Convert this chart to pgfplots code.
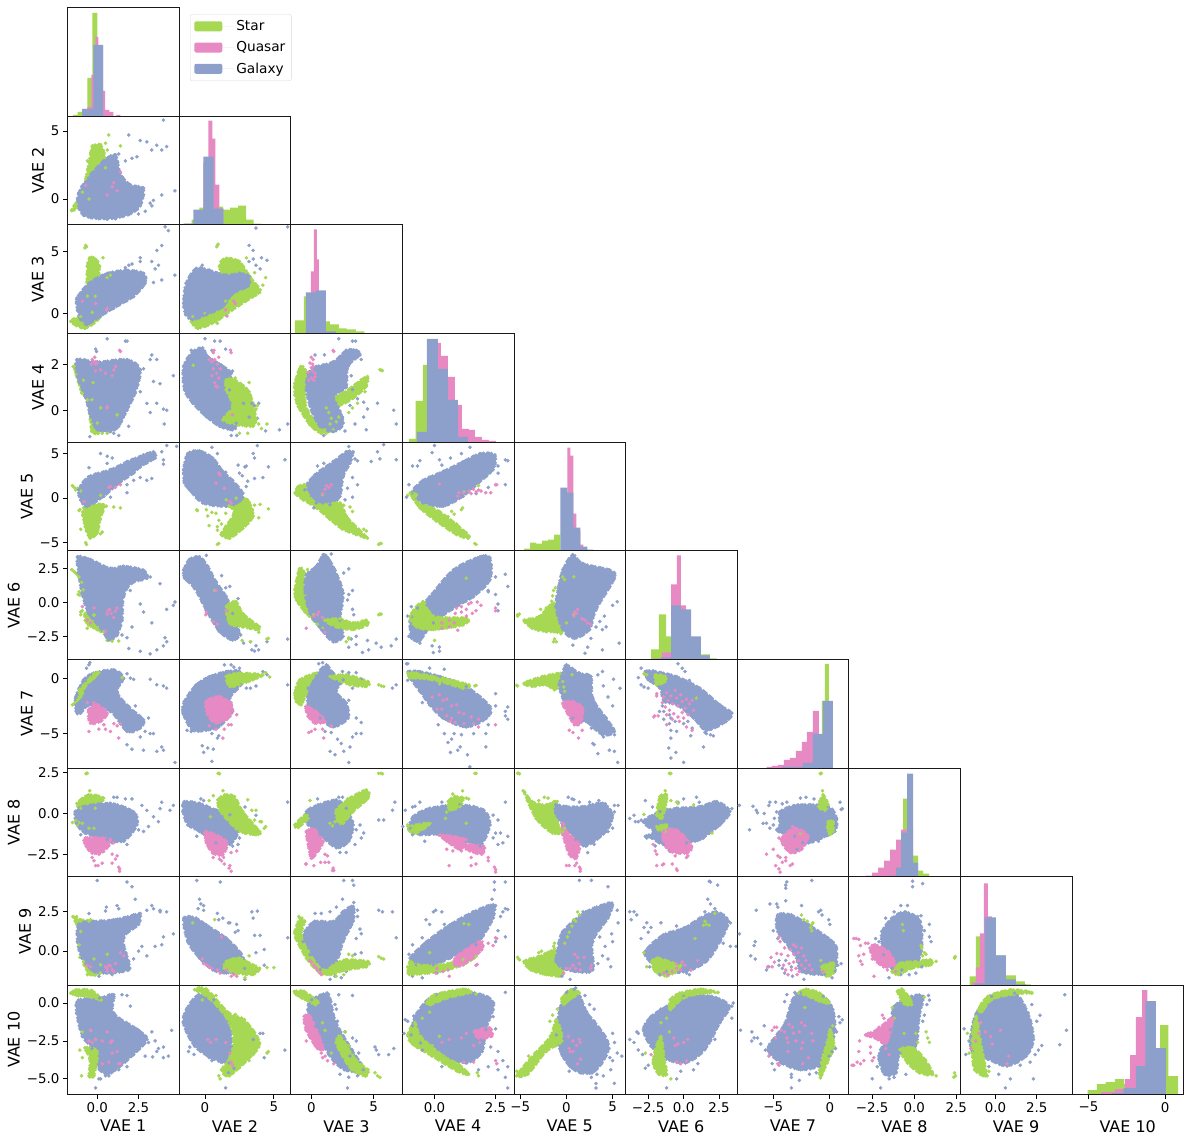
\documentclass[border=0pt]{standalone}
\usepackage{fontspec}
\setmainfont{DejaVu Sans}
\usepackage{pgfplots}
\pgfplotsset{compat=1.18}
\definecolor{cg}{HTML}{A6D854}
\definecolor{cp}{HTML}{E78AC3}
\definecolor{cb}{HTML}{8DA0CB}
% value ranges of the ten latent variables
\pgfplotsset{
  rx1/.style={xmin=-1.8,xmax=4.95},
  rx2/.style={xmin=-1.88,xmax=6.22},ry2/.style={ymin=-1.88,ymax=6.1},
  rx3/.style={xmin=-1.65,xmax=7.29},ry3/.style={ymin=-1.6,ymax=7.18},
  rx4/.style={xmin=-1.32,xmax=3.25},ry4/.style={ymin=-1.38,ymax=3.34},
  rx5/.style={xmin=-5.7,xmax=6.4},ry5/.style={ymin=-5.9,ymax=6.3},
  rx6/.style={xmin=-4.1,xmax=3.77},ry6/.style={ymin=-4.2,ymax=3.85},
  rx7/.style={xmin=-8.2,xmax=1.67},ry7/.style={ymin=-8.1,ymax=1.7},
  rx8/.style={xmin=-3.9,xmax=2.74},ry8/.style={ymin=-3.88,ymax=2.8},
  rx9/.style={xmin=-2.13,xmax=4.63},ry9/.style={ymin=-2.18,ymax=4.74},
  rx10/.style={xmin=-6.08,xmax=1.2},ry10/.style={ymin=-6.0,ymax=1.17},
  xlab-10-1/.style={xlabel={VAE 1},xtick={0,2.5},xticklabels={0.0,2.5}},
  xlab-10-2/.style={xlabel={VAE 2},xtick={0,5},xticklabels={0,5}},
  xlab-10-3/.style={xlabel={VAE 3},xtick={0,5},xticklabels={0,5}},
  xlab-10-4/.style={xlabel={VAE 4},xtick={0,2.5},xticklabels={0.0,2.5}},
  xlab-10-5/.style={xlabel={VAE 5},xtick={-5,0,5},xticklabels={−5,0,5}},
  xlab-10-6/.style={xlabel={VAE 6},xtick={-2.5,0,2.5},xticklabels={−2.5,0.0,2.5}},
  xlab-10-7/.style={xlabel={VAE 7},xtick={-5,0},xticklabels={−5,0}},
  xlab-10-8/.style={xlabel={VAE 8},xtick={-2.5,0,2.5},xticklabels={−2.5,0.0,2.5}},
  xlab-10-9/.style={xlabel={VAE 9},xtick={0,2.5},xticklabels={0.0,2.5}},
  xlab-10-10/.style={xlabel={VAE 10},xtick={-5,0},xticklabels={−5,0}},
  ylab-1-2/.style={ylabel={VAE 2},ytick={0,5},yticklabels={0,5}},
  ylab-1-3/.style={ylabel={VAE 3},ytick={0,5},yticklabels={0,5}},
  ylab-1-4/.style={ylabel={VAE 4},ytick={0,2},yticklabels={0,2}},
  ylab-1-5/.style={ylabel={VAE 5},ytick={-5,0,5},yticklabels={−5,0,5}},
  ylab-1-6/.style={ylabel={VAE 6},ytick={-2.5,0,2.5},yticklabels={−2.5,0.0,2.5}},
  ylab-1-7/.style={ylabel={VAE 7},ytick={-5,0},yticklabels={−5,0}},
  ylab-1-8/.style={ylabel={VAE 8},ytick={-2.5,0,2.5},yticklabels={−2.5,0.0,2.5}},
  ylab-1-9/.style={ylabel={VAE 9},ytick={0,2.5},yticklabels={0.0,2.5}},
  ylab-1-10/.style={ylabel={VAE 10},ytick={-5,-2.5,0},yticklabels={−5.0,−2.5,0.0}},
  base/.style={scale only axis,width=111.6pt,height=108.67pt,anchor=south west,
    xtick=\empty,ytick=\empty,major tick length=4.6pt,tick align=outside,
    xtick pos=bottom,ytick pos=left,tick style={black,line width=0.8pt},axis on top,
    axis line style={line width=0.8pt,black!90},
    tick label style={font=\fontsize{13.4}{15}\selectfont},
    label style={font=\fontsize{16}{18}\selectfont},
    xlabel style={yshift=-1pt}},
  poly/.style={smooth cycle,tension=0.6,draw=#1,fill=#1,line width=3.2pt,line cap=round,line join=round,
    dash pattern=on 0pt off 2.5pt on 0pt off 4pt on 0pt off 1.5pt,
    mark=*,mark size=1.6pt,mark options={draw=#1,fill=#1,solid,line width=0.4pt}},
  dots/.style={only marks,mark=*,mark size=1.6pt,mark options={draw=#1,fill=#1}},
  hbar/.style={const plot,fill=#1,draw=none,mark=none},
}
\newcommand{\Gp}[1]{\addplot[poly=cg] coordinates {#1};}
\newcommand{\Bp}[1]{\addplot[poly=cb] coordinates {#1};}
\newcommand{\Pp}[1]{\addplot[poly=cp] coordinates {#1};}
\newcommand{\gd}[1]{\addplot[dots=cg] coordinates {#1};}
\newcommand{\bd}[1]{\addplot[dots=cb] coordinates {#1};}
\newcommand{\pd}[1]{\addplot[dots=cp] coordinates {#1};}
\newcommand{\Hb}[2]{\addplot[hbar=#1] coordinates {#2} \closedcycle;}
% #1 column, #2 row, #3 plots
\newcommand{\panel}[3]{%
\begin{axis}[base,at={({(67.5+111.6*(#1-1))*1pt},{(1141-7.3-108.67*#2)*1pt})},
  rx#1,ry#2,xlab-#2-#1/.try,ylab-#1-#2/.try]
#3
\end{axis}}
\newcommand{\histp}[2]{%
\begin{axis}[base,at={({(67.5+111.6*(#1-1))*1pt},{(1141-7.3-108.67*#1)*1pt})},
  rx#1,ymin=0,ymax=108.67,xlab-#1-#1/.try]
#2
\end{axis}}
\begin{document}
\begin{tikzpicture}
\path[use as bounding box] (0pt,0pt) rectangle (1190pt,1141pt);
% diagonal histograms
\begin{axis}[base,at={(67.5pt,1025pt)},rx1,ymin=0,ymax=108.67,
  legend style={at={(1.0985,0.9356)},anchor=north west,draw=black!15,rounded corners=2pt,
    font=\fontsize{13.7}{15}\selectfont,row sep=5.5pt,inner sep=4pt,legend cell align=left},
  legend image code/.code={\path[#1] (0pt,-5pt) rectangle (28pt,5pt);\path (0pt,0pt) -- (40pt,0pt);}]
\Hb{cg}{(-1.47,1)(-1.19,4)(-.91,7)(-.6,38)(-.3,103)(0,60)(.3,0)}
\addlegendentry{Star}
\Hb{cp}{(-.6,9)(-.36,41)(-.12,79)(.06,70)(.36,25)(.48,6)(.73,4)(.97,0)(1.15,1)(1.4,0)}
\addlegendentry{Quasar}
\Hb{cb}{(-.91,7)(-.24,71)(.36,0)}
\addlegendentry{Galaxy}
\end{axis}
\histp{2}{\Hb{cg}{(-1.56,1)(-.98,5)(-.4,17)(-.11,18)(1.32,15)(1.83,17)(2.41,19)(2.99,5)(3.52,1)(4.08,0)}
\Hb{cp}{(-.11,62)(.25,104)(.54,86)(.76,40)(1.05,16)(1.34,0)}
\Hb{cb}{(-1.56,1)(-.84,15)(-.11,68)(.62,16)(1.34,0)}}
\histp{3}{\Hb{cg}{(-1.32,13)(-.6,37)(-.44,37)(1.16,12)(1.48,9)(2.2,5)(2.82,4)(3.57,2)(4.26,0)}
\Hb{cp}{(-.44,5)(-.04,62)(.2,104)(.44,74)(.6,40)(.84,0)}
\Hb{cb}{(-.44,41)(.36,43)(1.16,2)(1.97,0)}}
\histp{4}{\Hb{cg}{(-1.05,3)(-.77,41)(-.48,77)(-.31,0)}
\Hb{cp}{(.12,99)(.26,86)(.55,65)(.83,37)(1.12,13)(1.41,12)(1.65,5)(1.94,2)(2.23,1)(2.51,0)}
\Hb{cb}{(-.72,10)(-.31,103)(.14,73)(.55,42)(.96,5)(1.37,0)}}
\histp{5}{\Hb{cg}{(-4.59,2)(-3.93,8)(-3.28,7)(-2.63,10)(-1.98,11)(-1.33,16)(-.67,0)}
\Hb{cp}{(.09,103)(.41,95)(.74,37)(1.07,20)(1.5,6)(1.83,0)}
\Hb{cb}{(-.67,63)(.09,58)(.74,23)(1.5,4)(2.26,1)(2.91,0)}}
\histp{6}{\Hb{cg}{(-2.3,10)(-1.74,45)(-1.24,23)(-.89,10)(1.22,5)(1.85,1)(2.35,0)}
\Hb{cp}{(-2.16,1)(-1.53,7)(-.89,75)(-.47,104)(-.19,54)(.16,0)}
\Hb{cb}{(-1.6,2)(-.89,54)(-.19,50)(.52,23)(1.22,4)(1.85,0)}}
\histp{7}{\Hb{cg}{(-.71,67)(-.44,104)(-.09,0)}
\Hb{cp}{(-5.58,1)(-5.13,2)(-4.6,3)(-4.07,8)(-3.54,10)(-3.01,17)(-2.48,26)(-2.04,36)(-1.5,57)(-.97,0)}
\Hb{cb}{(-4.25,1)(-3.36,1)(-2.39,5)(-1.5,34)(-.62,67)(.27,0)}}
\histp{8}{\Hb{cg}{(-.66,78)(-.42,50)(-.07,21)(.11,21)(.23,6)(.53,3)(.89,0)}
\Hb{cp}{(-2.86,1)(-2.51,4)(-2.15,9)(-1.79,16)(-1.43,27)(-1.08,37)(-.78,47)(-.42,0)}
\Hb{cb}{(-1.43,1)(-1.08,9)(-.78,44)(-.42,103)(-.07,14)(.23,0)}}
\histp{9}{\Hb{cg}{(-1.56,9)(-1.19,49)(-.95,30)(.63,10)(1.23,4)(1.78,1)(2.14,0)}
\Hb{cp}{(-1.43,3)(-1.19,18)(-.95,52)(-.71,102)(-.46,69)(-.22,0)}
\Hb{cb}{(-1.25,2)(-.65,68)(.02,30)(.63,6)(1.23,1)(1.84,0)}}
\histp{10}{\Hb{cg}{(-5.05,4)(-4.45,10)(-3.88,12)(-3.28,15)(-2.68,10)(-.33,69)(.22,18)(.85,0)}
\Hb{cp}{(-4.18,2)(-3.28,5)(-2.62,15)(-2.28,39)(-1.9,77)(-1.5,104)(-1.15,0)}
\Hb{cb}{(-3.45,1)(-2.7,6)(-1.9,28)(-1.28,93)(-.6,46)(.05,0)}}
% row VAE 2
\panel{1}{2}{\Gp{(-1.55,-.85)(-.9,.5)(-.7,1.5)(-.4,3.4)(-.3,3.9)(.2,4)(.4,3.4)(.5,2.3)(-.5,0)}
\gd{(.7,4.7)(.5,4.1)(1.4,3.9)(.6,3.6)(-.1,3.2)(-.6,2.8)}
\Bp{(-1.2,0)(-.93,.93)(-.32,1.9)(.38,2.8)(1.1,3.25)(1.4,1.9)(2,1.05)(2.8,.8)(2.6,-.5)(1.9,-1.15)(.6,-1.47)(-.83,-1.2)}
\bd{(4,5.8)(1.9,4.7)(2.6,4.3)(3,4.2)(3.6,3.95)(3.9,3.6)(4.2,3.85)(3.3,3.6)(4.7,.6)(3.9,.3)(3.4,-.1)(3.2,-.3)(2.9,-.9)(2.4,3.1)(2.1,3)(1.7,2.8)(1.3,3.3)(3.3,-.5)(2.5,-1.1)(1.1,-1.45)}
\pd{(1.4,2)(1,1.2)(.9,.9)(.6,.3)(1.2,.6)(-.7,1)}}
% row VAE 3
\panel{1}{3}{\Gp{(-.6,3.8)(-.46,4.5)(-.22,4.5)(.14,3.8)(-.12,1.4)(-.6,1.4)}
\Gp{(-1.6,-.65)(-.73,-1.2)(.18,-.24)(-1,-.25)}
\gd{(-.7,5.5)(-.65,5.4)(-.75,5.3)(.35,4.5)(-.55,4)(-.3,3.2)(.6,2.9)(.8,3.1)(-.9,-.8)(-1.4,-.7)(-.3,.1)}
\Bp{(-1.23,1.24)(-.5,2.45)(.6,3.25)(1.8,3.5)(2.8,3.25)(2.9,2.45)(2.2,1.37)(1,.43)(.18,-.24)(-.63,-.9)(-1,-.5)(-1.2,.3)}
\bd{(4.1,7)(4.3,6.7)(3.9,5.5)(3.6,5.1)(4.7,3.1)(3.9,2.7)(3.4,2.5)(3.7,3.9)(3.3,4.2)(2.6,4.5)(2.6,4.2)(1.9,3.9)(2.1,4)(3.5,3.6)(1.4,3.3)(1.7,3.7)}
\pd{(.6,.4)(.55,.3)(-.9,1)(-.1,.8)}}
\panel{2}{3}{\Gp{(-1,-.65)(-.5,-1.2)(.8,-.65)(2,.3)(3.7,1.5)(4,1.9)(3.25,3)(2.5,4.2)(1.55,4.45)(1.05,3.8)(1.5,1)(0,0)(-.9,-.25)}
\gd{(.9,5.5)(.95,5.6)(.85,5.4)(3,4.5)(4.4,2.9)(4.2,2.3)(3.6,3.3)(.9,-.8)(.2,-.9)}
\Bp{(-1.56,.83)(-1.37,2.45)(-.64,3.65)(.33,3.5)(1.54,3.1)(2.5,3.25)(3.2,3)(3.1,2.2)(2,1.6)(1.3,.55)(.1,-.1)(-.9,-.5)(-1.4,-.1)}
\bd{(3.7,6.9)(6,7)(3.2,5.5)(3.5,5.1)(4.1,4.5)(4.5,4.3)(3.5,4.4)(3.2,4.2)(3.7,3.9)(4,3.6)(-1.5,1)(-.2,3.9)}
\pd{(1.6,-.2)(2.1,1)(2.2,.8)(1.5,.3)}}
% row VAE 4
\panel{1}{4}{\Gp{(-1.4,1.9)(-1.27,1.53)(-.93,.74)(-.6,.45)(-.42,-.42)(-.32,-.93)(.08,-1)(0,-.56)(-.32,.45)(-.83,1.3)}
\gd{(-1.45,1.9)(-.1,-.95)(.6,-1)(.3,-1)(-.25,1.2)(.2,.1)(1.2,-.2)}
\Bp{(-1.23,2.2)(0,2.1)(1.8,2.2)(2.6,1.75)(2.3,.75)(1.8,0)(1.3,-.7)(.8,-.93)(0,-.85)(-.4,-.28)(-.73,.6)(-1.2,1.46)}
\bd{(.6,3.1)(1.7,3)(1.8,3)(-.1,2.65)(-.05,2.55)(3.3,2.4)(3.2,2.2)(3.6,2.2)(2.8,1.8)(3.4,1.25)(3.8,1.15)(4.6,1.5)(3,.3)(3.6,.3)(4,.05)(4.2,0)(4.05,-.6)(3.2,-.1)(-.45,-1.15)(1.3,-1.1)(1.9,-.7)(2.6,.8)(1,-1)}
\pd{(-.3,2.2)(-.2,2.1)(-.35,2)(-.1,2)(0,2.05)(-.15,2.3)(1.35,2.6)(1.4,2.55)(1.1,1.9)(1,1.75)(-.1,1.7)(.5,1.6)(.6,.15)(.6,.1)(.2,1.75)(.9,1.5)}}
\panel{2}{4}{\Bp{(-1.56,1.9)(-.88,2.55)(-.16,2.7)(.2,2.33)(1.17,1.97)(1.9,1.6)(1.78,.88)(2.26,-.56)(2,-.85)(1.05,-.7)(.08,-.28)(-.88,.3)(-1.49,.88)}
\bd{(0,3.1)(.7,3)(1.1,3)(.5,2.6)(1.5,2.65)(-1,2.6)(2.8,.3)(3.9,.3)(3.2,-.3)(3.8,-.35)(4.4,-.9)(6,-.6)(5.4,-.85)(2.3,-1.1)(1.9,-1.1)(2,1.7)(3.4,.3)(3.6,.2)}
\Gp{(1.54,1.32)(2.14,1.32)(3.2,.8)(3.7,-.35)(3.47,-.7)(2.5,-.64)(1.3,-.42)(2,.16)(1.54,.88)}
\gd{(3.9,-.6)(4.1,-.8)(4.5,-.6)(3.1,-1)(2.5,-1)(3.7,.05)(3.8,.2)(3.2,1.2)(-.85,1.95)(2.2,1.4)}
\pd{(.6,2.5)(.65,2.6)(1.85,2.6)(1.9,2.5)(.7,2.2)(.5,2.1)(.9,2)(.3,2.2)(.6,1.8)(.85,1.6)(1,1.4)(.7,1.2)(.9,1)(.8,1.05)(.5,1.5)(1.1,1.8)(2,-.2)(1,2.3)}}
\panel{3}{4}{\Gp{(-1.32,1.17)(-.85,1.9)(-.39,1.6)(-.52,.45)(0,-.28)(1.08,-.85)(1.75,-.85)(.8,-1)(-.1,-.64)(-1.05,.16)(-1.32,.67)}
\Bp{(-.25,1.6)(.4,1.9)(1.75,2.1)(2.8,2.6)(3.6,2.6)(3.9,2.4)(2.95,1.9)(2.8,1)(2,.6)(2.55,-.56)(1.75,-.93)(.7,-.7)(0,0)(-.4,.88)}
\bd{(2.2,3.1)(3.3,3)(3.55,3)(1.05,2.4)(.3,2.4)(4,2.2)(3.2,1.5)(3.3,.9)(3.7,.5)(3.1,.2)(4.2,.35)(5.3,.3)(4.5,.05)(6.6,0)(6.8,-.6)(4.2,-.3)(4.4,-.85)(1,-1.1)(2.7,-.9)(3.5,-.6)(2.5,-.3)}
\Gp{(2,.6)(2.55,.74)(4,1.32)(4.5,1.46)(4.4,1.03)(3.35,.52)(2.3,.23)}
\gd{(5.5,1.76)(5.6,1.74)(5.7,1.72)(1.5,-.6)(1.6,-.35)(1.4,-.1)(1.2,.1)(2,-.5)(2.2,-.3)(3,-.1)(3.3,.1)(3.7,.3)(4.3,.8)(1.2,-1)}
\pd{(1.75,2.6)(1.8,2.55)(0,2.3)(.15,2.2)(.1,2)(-.1,2.05)(0,1.85)(.1,1.7)(.3,1.6)(.2,1.3)(0,1.4)(-.2,1.3)(.3,1.45)(.15,1.9)(-.25,1.65)}}
% row VAE 5
\panel{1}{5}{\Gp{(-.83,-1.1)(.38,-.75)(.18,-2.4)(0,-3.9)(-.43,-4.5)(-.73,-3.2)}
\gd{(-1.5,1.4)(-1.4,1.2)(-1.2,1.1)(-1.3,.9)(-1,.8)(-1.05,-1.3)(-1.1,-1.4)(-.7,-5)(-.65,-5.2)(-1,-3.5)(.3,-3.8)(.55,-.9)(1,-1)(1.4,-1.1)(.2,.3)(-.4,-4.3)(.2,-4)}
\Bp{(-1.13,.93)(-.53,2.4)(.8,3.2)(1.8,4.1)(2.8,4.85)(3.4,5.2)(3.5,4.5)(2.6,3.5)(2.2,2.8)(1.2,1.5)(.4,.2)(-.63,-.93)(-1,-.2)}
\bd{(.2,5)(.6,4.7)(.9,4.5)(-.5,3.4)(4.2,5.9)(4.8,5.8)(3.9,5.2)(4,4.3)(4,3.8)(3.3,2.2)(2.6,2.3)(3,2)(2.2,2)(1.8,1.5)(.6,3.9)(1.8,.6)(.8,.1)}
\pd{(.8,1.3)(.7,1.2)(1.4,1.5)(-.8,-.4)(1.1,1.2)}}
\panel{2}{5}{\Gp{(1.54,-.2)(2.26,0)(3.1,-.2)(3.5,-2)(2.75,-3.4)(1.8,-4.5)(1.17,-4.1)(1.5,-3.2)(2.1,-1.7)(1.8,-.9)}
\gd{(-.6,-1.3)(-.55,-1.4)(.1,-1.3)(.5,-1.6)(.2,-2)(.8,-1.7)(1,-2.5)(.9,-3.2)(.3,-3.1)(.9,-3.6)(.9,-5.2)(1,-5.1)(3.6,-.8)(4,-.7)(4.6,-1.2)(3.9,-2.2)(3.3,-2.4)(1.5,-1.7)(1.2,-2.9)(1.7,-.9)}
\Bp{(-1.56,3.2)(-1.25,5)(-.4,5.3)(.57,4.5)(1.3,3)(2,2)(2.75,.55)(2.5,-.37)(1.54,-.93)(-.16,-.55)(-1.13,.93)(-1.5,1.7)}
\bd{(.5,5.7)(3.8,5.9)(3.5,5)(3.6,4.5)(4.6,3.5)(5.8,4.3)(2.9,3.5)(2.4,3.7)(3,3.6)(3.6,2.2)(4.2,2.3)(3.1,1.9)(3,1.3)(2.7,2.5)(.9,5)(1.5,2.9)(2.5,2.8)}
\pd{(1,2.8)(1.1,2.6)(.8,1.7)(1.4,1.1)(1.8,-.4)(1.9,-.6)}}
\panel{3}{5}{\Bp{(-.52,.93)(.28,2.6)(1.75,4.1)(2.8,5.2)(3.35,5.2)(3.1,3.9)(2.55,2.4)(2.3,.2)(1.5,-.75)(.4,-.55)}
\Gp{(-1.3,.55)(-1.05,1.3)(-.52,1.5)(-.25,.37)(.7,-.75)(2.3,-.55)(2.8,-2)(3.8,-3.5)(4.5,-4.5)(3.6,-4.1)(2.5,-3.5)(1.5,-2.4)(.4,-1.1)(-.65,-.2)}
\gd{(5.5,-5.1)(5.6,-5.1)(5.4,-5.2)(2.6,-.8)(3.1,-1)(3.3,-1.5)(4.2,-3.5)(4.4,-3.7)(.9,.4)}
\bd{(3,5.8)(5.8,6)(5.5,4.4)(6.8,4.3)(4.8,4.1)(5.3,5.2)(3.7,4.2)(3.5,4.4)(1,3.9)(.5,3.6)(3.7,1.5)(3.3,2.3)(3.3,.1)(2.9,1.1)(2.7,-.2)(.2,-1.1)}
\pd{(1.2,1.4)(1.4,1.2)(1.1,1)(1.6,1.5)(.9,.5)}}
\panel{4}{5}{\Bp{(-.94,.56)(-.47,2)(.35,3)(1.17,4.1)(1.86,5)(2.47,4.85)(2.4,3.2)(1.8,1.7)(1.17,.2)(.35,-.93)(-.47,-.55)}
\Gp{(-1,.55)(-.74,.37)(-.74,-.37)(.2,-1.5)(1.3,-3.9)(1.38,-4.5)(.9,-4.1)(.08,-2.6)(-.6,-1.1)}
\gd{(.7,-1.5)(.8,-1.8)(.55,-2.1)(1.1,-1.3)(1.15,-1.1)(.6,-2.7)(1.7,-5.2)(1.65,-5.1)(.9,-2.9)(1.2,.7)(1.8,1.4)(-1.1,.3)}
\bd{(0,5.9)(-.1,5.1)(1.45,5.7)(-.6,4.2)(-.9,3.6)(-.7,3.6)(.2,4.3)(.65,4.5)(1.1,5)(2.9,4.3)(3,4.2)(2.6,3.6)(2.6,2.8)(2.9,1.5)(1.7,.5)(2.2,1.2)(-1.15,.1)(-1.05,1.5)(.3,3.7)}
\pd{(1,.6)(1.2,.6)(1.4,.8)(1.6,1)(1.8,.9)(1.9,.8)(2.1,.6)(2.3,.6)(2.5,1.5)(2.55,1.5)(1.5,.5)(.95,.2)(.2,1.6)(1.7,.7)}}
% row VAE 6
\panel{1}{6}{\Gp{(-1.55,2.45)(-1.3,2.2)(-.95,1.5)(-.85,.95)(-1.1,1.9)(-1.4,2.3)}
\Gp{(-.73,-.8)(-.2,-.9)(.38,-2.15)(-.02,-2)(-.53,-1.65)(-.73,-1.3)}
\gd{(-1.15,.6)(-1.1,.8)(-1.05,.55)(-1,-.7)(-.9,-.6)(-1,-.9)(.6,-2.8)(.9,-2.85)(1.3,-2.85)(-.6,-1.9)(-.2,-.95)}
\Bp{(-1.2,3.4)(-.42,3.2)(.8,2.55)(1.6,2.7)(2.8,2.4)(3,1.8)(2.1,1.45)(1.6,.45)(1.5,-1.3)(1.2,-2.4)(.7,-2.77)(.2,-1.9)(-.53,-.8)(-.93,.7)(-1.13,2.2)}
\bd{(2.6,2.4)(3.2,1.9)(3.8,1.4)(2,.9)(2.6,-.1)(2.8,-.7)(4.2,-.5)(4.6,-.2)(4.7,.05)(3.3,-1.5)(2.1,-1.8)(1.8,-2.6)(1.9,-3.4)(2.6,-3.6)(3.2,-3.8)(3.6,-3.5)(4,-3.2)(4.2,-2.9)(4.1,-2.6)(1.5,-2.4)}
\pd{(.75,-.5)(.65,-.6)(.85,-.8)(.6,-.85)(1.1,-.65)(1.2,-.4)(-.6,-1.3)(-.4,-1.5)(-.9,-.3)(1,-1.1)(.5,-2.1)(-.2,-.4)}}
\panel{2}{6}{\Bp{(-1.56,2.4)(-1.13,3.2)(-.4,3.4)(.2,2.7)(.8,1.55)(1.55,.45)(2,-.8)(2.5,-2.3)(2,-2.77)(1.05,-2.15)(.08,-.55)(-.76,1.05)(-1.48,1.8)}
\bd{(.1,3.5)(1.2,2)(1.8,1.2)(1.5,1.1)(2.4,.3)(2.6,-2.4)(3.3,-2.9)(3.7,-3.2)(3.4,-3.5)(6,-2.7)(3.9,-3.5)(4.5,-2.9)(3.6,-3.6)(2.8,-3)}
\Gp{(1.55,-.3)(2.26,.07)(2.75,-.8)(3.96,-1.8)(3.7,-2)(2.75,-1.8)(1.8,-1.55)}
\gd{(4.5,-2.7)(4.6,-2.65)(3.9,-2.2)(3.3,-2.9)(2.7,-2.8)(.7,.9)}
\pd{(.1,-.7)(.05,-.9)(.8,.9)(.6,-1.4)(1.6,-.6)(.9,-1.6)}}
\panel{3}{6}{\Gp{(-1.32,.95)(-.95,2.5)(-.55,2.2)(-.5,.6)(.2,-.9)(.9,-1.9)(.5,-1.6)(-.5,-.7)(-1.2,.2)}
\Bp{(-.4,2.05)(.4,2.7)(.95,3.55)(1.35,3.3)(1.9,2.4)(2.55,.7)(2.3,-1.3)(2.55,-2.5)(1.75,-2.9)(.8,-2)(-.1,-.8)(-.5,.7)}
\bd{(1.6,3.6)(2.6,2.2)(3,2.5)(3.3,.9)(3,.6)(2.9,.2)(3.3,-.5)(3.4,-.9)(4.5,-2.8)(5.2,-3)(6.8,-2.7)(6.4,-3.2)(5.6,-3.3)(4.6,-3.5)(4.1,-3.7)(3,-3.3)(3.6,-3.1)(3.2,-2.7)(3.6,-2.5)}
\Gp{(1.08,-1.3)(2.3,-1.2)(3.35,-1.5)(4.4,-1.3)(4.5,-1.65)(3.35,-2)(2,-1.8)}
\gd{(5.4,-.9)(5.5,-.85)(5.6,-.85)(3,-2.6)(2.8,-2.9)(3,-2.7)(-.3,2.45)}
\pd{(-.4,-1.9)(.6,-.7)(.5,-.9)(.2,-1)(.9,-1.1)(1.1,-2.2)}}
\panel{4}{6}{\Bp{(-1,-1.8)(-.94,-1.04)(-.2,.45)(.77,2.43)(1.86,3.4)(2.27,3.3)(2.27,1.7)(1.6,.45)(.9,-.3)(-.05,-1.5)(-.6,-2.8)(-.94,-2.65)}
\bd{(2.9,2.1)(3,1.2)(2.5,1.9)(2.5,.6)(2.2,.9)(2.6,-.1)(2.6,-.6)(-.95,-.3)(-.7,-.4)(-.3,-.2)(-1.1,-1)(-.6,-3)(-.1,-3.2)(.2,-3.3)(-.05,-3.7)(.2,-3.6)(2.2,.8)(.1,.9)(-1.05,-2.5)}
\Gp{(-1,-1)(-.47,.07)(-.05,-1)(1.3,-1.15)(1.17,-1.65)(-.05,-2)(-.74,-1.8)}
\gd{(1.3,1.8)(0,-2.8)(-.5,-.3)(-.2,-.7)(1.35,-1.4)}
\pd{(.9,-.4)(1.1,-.3)(1.3,-.5)(1.5,0)(1.7,-.6)(1.9,-.2)(.85,-.8)(1.1,-.7)(1.3,-1)(.6,-1.3)(.3,-1.5)(.6,-1.8)(.8,-1.5)(1.75,.05)(2.5,-.4)(2.5,-.6)(1.4,-.1)(1.55,-.8)(.95,-2.05)(.3,-1.9)}}
\panel{5}{6}{\Gp{(-4.6,-1.3)(-3,-1.04)(-1.33,-.05)(0,-1.5)(-.4,-2.1)(-2.2,-2.15)(-3.7,-1.9)}
\gd{(-5.3,-.9)(-5.1,-.85)(-5.3,-1)(-1.3,-2.7)(-1.4,-2.9)(-1.1,-2.9)(-1.5,.5)(-1.4,.9)(-1.2,1.1)(-1.6,.1)(-2.2,-.4)(-2.8,-.5)(-.6,-2.3)(-1,-2.2)}
\Bp{(-.4,2.43)(.67,3.55)(1.75,2.9)(4.65,2.43)(5.2,1.8)(3.2,-.55)(2.5,-2)(.85,-2.65)(-.4,-2)(-1.15,-.3)(-.85,1.2)}
\bd{(5,-.2)(5.5,.07)(4.1,-1)(3.6,-1.4)(3.2,-1.8)(3.9,-2)(4.3,-1.8)(5.7,-3)(3.9,-3.5)(2.3,-3.3)(2,-3.75)(.7,-3.15)(2.65,-2.65)(5,1.9)}
\gd{(.8,1.9)(-.2,1.7)(.8,-.9)(-.4,1.9)}
\pd{(.9,-.7)(1.1,-.8)(.8,-1)(2,-1.3)(2.3,-1.5)(1.7,-1.2)(2.6,-1.6)(1.2,-.5)}}
% row VAE 7
\panel{1}{7}{\Bp{(-1.33,-1.8)(-.83,-.15)(-.22,.45)(1,.75)(1.6,0)(1.2,-1.2)(1.9,-2.55)(2.8,-3.75)(2.6,-4.5)(1.8,-4.8)(.8,-3)(-.42,-2.4)(-1,-3.15)(-1.27,-3)}
\bd{(-.5,1.2)(-.45,1.4)(-.65,.9)(1.8,.4)(2,0)(2.2,-.1)(3.2,-.1)(3.6,-.6)(4,-.7)(4.2,-.9)(2.3,-2.5)(3.1,-3.6)(3.2,-5)(3.4,-5)(2.6,-5.3)(1.8,-6)(2.1,-6.4)(2.8,-6.5)(3.6,-6.6)(3.9,-6.2)(4,-6.5)(4.7,-7.6)(-1.2,-3.2)(2.9,-4.8)}
\Gp{(-1.5,-2.4)(-1.15,-1.9)(-1.05,-1)(-.8,-.6)(-.2,.4)(.1,.5)(-.2,0)(-.7,-.7)(-1,-1.7)}
\gd{(1.5,.05)}
\Pp{(-.53,-2.85)(0,-2.4)(.6,-3.15)(.2,-3.9)(-.42,-4.05)}
\pd{(-.5,-4.8)(.1,-4.6)(.5,-4.6)(.8,-4.8)(1.2,-4.3)(1.3,-5.4)(1,-4.1)(.4,-4.2)(1.4,-4.1)(-.2,-2.2)(-.6,-2.2)}}
\panel{2}{7}{\Bp{(-1.6,-3.15)(-1.5,-2.1)(-.64,-.6)(.33,.15)(1.54,.6)(2.5,.6)(2.6,-.6)(1.8,-1.8)(2,-3)(1,-4.4)(.08,-4.7)(-.9,-4.7)}
\bd{(1.4,1.2)(1.9,1.2)(2.1,1)(2.5,.9)(4.2,.6)(4.5,.3)(6,-.6)(3.7,-.7)(3.3,-.9)(3,-.9)(.5,-5)(-.2,-6.1)(.2,-6.3)(.6,-6.4)(.5,-7.5)(-.1,-6.7)(-1,-4.8)(-1.3,-4.7)(1,-5.2)(.9,-5.4)}
\Gp{(1.54,.15)(2.5,.45)(4.2,.3)(3.47,-.15)(2.5,-.6)(1.8,-.75)}
\gd{(4.7,.1)(2.9,-.3)(4.4,.5)}
\Pp{(.08,-2.1)(1.05,-1.65)(1.9,-2.4)(1.8,-3.45)(.8,-4.05)(.2,-3.3)}
\pd{(1.9,-2.2)(2,-2.9)(2.3,-3.3)(1.7,-4.2)(1.9,-4.2)(1.4,-4.6)(1.3,-5.4)(.3,-4.3)(.8,-4.6)}}
\panel{3}{7}{\Bp{(-.25,-.9)(.4,.3)(1.2,1.2)(1.75,.45)(2.55,-.15)(2,-1.2)(2.8,-2.25)(2.95,-3.6)(1.75,-4.4)(.7,-3.6)(-.25,-2.4)}
\bd{(.6,1.3)(.9,1.4)(2.5,.6)(3,.5)(3.6,.5)(4,-.1)(3.3,-.9)(3,-2)(3.6,-3.6)(4,-4)(4,-5)(3.6,-5)(3.3,-5.3)(2.1,-5.5)(2.4,-5.9)(1.5,-6.6)(1.9,-6.9)(2.6,-6.6)(3.1,-6.2)(3,-7.6)(6.8,-.6)(6.5,-.9)(1.6,-4.9)(1.1,-4.8)}
\Gp{(-1.32,-1.35)(-.92,-.15)(.4,.45)(-.1,-.3)(-.44,-1.5)(-.8,-2.4)(-1.2,-2.1)}
\Gp{(1.5,.15)(2.8,.3)(4.55,-.3)(4.4,-.75)(3.1,-.6)(1.75,0)}
\gd{(5.4,-.6)(5.6,-.7)(5.8,-.75)(3.9,-.2)}
\Pp{(-.44,-2.55)(.4,-3)(1.1,-3.9)(.28,-4.05)(-.25,-3.45)}
\pd{(-.2,-2.6)(0,-4.8)(-.2,-4.9)(.3,-4.6)(.9,-4.6)(1,-5.4)(1.6,-4.3)}}
\panel{4}{7}{\Bp{(-1.08,.6)(-.6,.6)(.22,.15)(1.3,-.75)(2.27,-2.55)(2.13,-3.6)(1.3,-4.4)(.35,-3.6)(-.2,-2.4)(-.6,-1.2)(-1,0)}
\bd{(-1.15,1.3)(-1.1,1.3)(-.2,.9)(.4,.8)(-1.1,-.2)(-.4,-1.6)(2.5,-1.4)(2.5,-2.5)(2.9,-3)(3,-3.7)(3,-2.6)(2.9,-3.4)(2.2,-4.2)(2.1,-5)(1.6,-5)(.8,-5)(.7,-5.5)(.4,-5)(1.1,-5.1)(1.05,-6.2)(.95,-6.5)(.65,-6.7)(1.35,-6.9)(1.45,-8)(2.1,-6.2)(-.5,-2.2)(.15,-4.2)(.55,-5.8)}
\Gp{(-1.08,.45)(-.74,.45)(.35,0)(1.4,-.6)(1.17,-.9)(.22,-.3)(-.6,0)(-1,0)}
\gd{(1.7,-.65)(1.65,-.7)(.2,-.5)}
\pd{(.2,-1.5)(.35,-2)(.5,-1.9)(.7,-2.5)(.9,-2.4)(.3,-2.8)(.5,-3.4)(.7,-3.6)(1,-3.1)(1.2,-3.2)(1.5,-3.5)(1.8,-3.7)(1.6,-4.1)(1.8,-4.4)(2.5,-4.2)(1.2,-4.1)(.85,-4)(.65,-3.9)(.1,-2.8)(-.1,-1.7)}}
\panel{5}{7}{\Gp{(-4.6,-.45)(-2.6,.15)(-.4,.45)(-.4,-.3)(-1.3,-1.05)(-2.2,-.6)(-3.7,-.75)}
\gd{(-5.4,-.65)(-5.3,-.7)(.6,.3)(-.3,-.8)(-.2,-1.2)}
\Bp{(-.4,.45)(0,1.2)(1.4,.45)(2.65,.15)(2.85,-1.8)(4.3,-3.6)(5.2,-4.8)(3.9,-5.1)(2.1,-3.9)(.67,-3.6)(-.4,-1.8)(-.8,-.6)}
\bd{(3.9,.6)(3.4,.3)(5.1,-.1)(5.8,-.9)(4,-.7)(2.9,-2)(3,-2.4)(4.5,-1.7)(5,-2.5)(4,-5.3)(3,-4.2)(2.7,-4.5)(2.85,-5.9)(3.4,-6.8)(4.65,-6.5)(5.2,-6.6)(5.55,-7.6)(3,-6)(5.2,-5.1)(4.5,-5.1)}
\Pp{(-.4,-2.25)(.67,-2.1)(1.75,-2.7)(1.57,-4)(.85,-4.2)(.1,-3.15)}
\pd{(.3,-4.7)(.7,-4.9)(1.7,-4.7)(1.3,-5.4)(.2,-2.4)(1.6,-2.6)}}
\panel{6}{7}{\Bp{(-2.7,.6)(-2.15,.65)(-.5,.15)(1.15,-.9)(2.55,-2.4)(3.4,-3.15)(3,-3.9)(1.6,-4.7)(.7,-3.6)(-.5,-2.4)(-1.4,-2.1)(-1.67,-.9)(-2.5,-.15)}
\bd{(-3,.9)(-3.2,.05)(-3,-.6)(-2.8,-.8)(-2.5,-.9)(-.4,1.3)(-.1,.9)(.1,.6)(-1.5,-2.5)(1.6,-1.6)(.4,-.2)(-1.4,-3.7)(-1,-4.1)(-.5,-4.8)(-.9,-4.7)(-.9,-5.4)(-1.05,-6.3)(-.55,-6.7)(-.9,-7.2)(0,-7.6)(.5,-5.2)(1.4,-6.2)(1.9,-5.1)(2.1,-5.2)(.6,-4.5)(1.6,-5)(1.5,-4.9)(-1.7,-3)(-1.4,-3)(-1,-3.3)(-.6,-3.9)(0,-4.1)(.3,-3.9)(-.9,-3.6)}
\Gp{(-2,.3)(-1.3,.15)(-1.3,-.3)(-1.9,-.6)}
\gd{(-2.8,.4)(-2.6,.3)(.9,-1.8)}
\pd{(-1.9,-1.4)(-2.1,-3.5)(-1.8,-3.4)(-1.2,-4.2)(.2,-4.4)(.6,-4.7)(.7,-2.9)(-1.9,-1.6)(-2.05,-3.4)(-1.4,-1.7)(-1.2,-1.3)(-1.1,-2)(-.9,-1.6)(-.8,-2.3)(-.6,-1.1)(-.5,-1.8)(-.4,-2.5)(-.2,-1.5)(-.1,-2.1)(.1,-2.7)(.2,-1.9)(.4,-2.3)(.6,-2)(-1.3,-2.6)(-1,-2.9)(-.7,-3.2)(-.4,-3.5)(-.1,-3.1)(.3,-3.3)(-1.2,-3.3)(-.8,-3.7)(-.3,-3.9)(-1.5,-2.2)(0,-3.6)}}
% row VAE 8
\panel{1}{8}{\Gp{(-1.23,.63)(-.53,1.15)(.38,.95)(-.12,.33)(-1,.33)}
\gd{(-1.5,-.55)(-1.3,-.45)(-1.2,-.7)(-1.1,-.55)(-.9,-.6)(-.5,-.9)(-.65,2.47)(-.6,2.47)(-.68,2.45)(-.45,1.4)(-.85,.7)(-.2,-.9)}
\Bp{(-1.33,.12)(-.83,.43)(.8,.63)(2.2,.1)(2.4,-.7)(1.6,-1.7)(.6,-1.6)(-.73,-1.2)(-1.27,-.6)}
\bd{(1,1)(1.2,1)(1.7,.9)(2.1,.9)(2.7,.5)(3,.2)(3.4,-.2)(3.1,-.8)(3.7,-.5)(2.8,-1.1)(3.9,.7)(3.8,.3)(4.6,.5)(4.4,.2)(2.5,-1)(1.8,-1.9)(-1,-1.3)(.9,-1.8)}
\Pp{(-.73,-1.5)(.8,-1.6)(.38,-2.33)(-.32,-2.43)(-.67,-2)}
\pd{(-.3,-2.7)(-.2,-2.9)(.1,-2.5)(.9,-2.5)(1.2,-2.6)(1.1,-2.8)(.9,-3.05)(.3,-3.05)(.05,-3.2)(-.1,-3.2)(1.3,-3.3)(1.35,-3.4)(1.35,-3.55)(1,-1.8)}}
\panel{2}{8}{\Bp{(-1.6,.12)(-1.5,.73)(-.4,.63)(.8,.22)(1.8,-.08)(2.4,-1.1)(1.8,-1.9)(.8,-1.8)(-.4,-1.1)(-1.25,-.7)}
\bd{(6,.7)(2.9,.4)(-.1,.8)(-.3,.9)(2.5,-1.5)(2.4,-1.9)(2,-2)(-.6,-1.4)(3.7,-.1)}
\Gp{(.93,.84)(1.42,1.15)(2.14,1.04)(2.75,.12)(3.96,-1.1)(3.7,-1.3)(2.5,-1.1)(1.54,-.3)(1.05,.22)}
\gd{(.95,2.47)(1,2.47)(1.05,2.45)(.6,1.1)(1.3,1.4)(3.1,.85)(.3,.8)(4.3,-.9)(4.4,-.8)(4,-.5)(3.7,.2)(3.4,.2)(4.1,-.5)(.4,-.2)(3.6,-.4)}
\Pp{(.08,-1.1)(1.54,-1.7)(1.3,-2.53)(.57,-2.43)(.1,-1.8)}
\pd{(.6,-2.7)(1.2,-2.9)(1.35,-2.7)(1.4,-3.1)(1.8,-3.2)(1.75,-3.35)(1.9,-3.55)(2.3,-2.3)(1.9,-2.4)(1.05,-2.8)}}
\panel{3}{8}{\Bp{(-.4,.12)(.55,.53)(2,.84)(2.8,.33)(3.35,-.7)(3,-1.7)(2,-2.1)(.7,-1.3)(-.25,-.7)}
\bd{(2.2,1)(2.5,1)(3.3,-.5)(3.6,-1)(4.2,-1.2)(4,-1.5)(3.5,-1.9)(3.9,-.7)(5.4,-.4)(5.8,-.4)(6.7,.7)(6.5,.2)(.9,-1.3)(.5,.9)(2.8,-2.4)(2.3,-2.4)}
\Gp{(2,.22)(3.1,.94)(4.4,1.45)(4.55,.94)(3.35,.12)(2.55,-.6)(2.15,-.5)}
\Gp{(-1.32,-.7)(-.52,-.08)(-.25,-.3)(-1.05,-.86)}
\gd{(5.4,2.47)(5.6,2.47)(5.7,2.45)(1.5,-.6)(1.7,-.75)(1.9,-.5)(3.2,1)(4.4,1.4)(2.9,.9)(-.1,.8)}
\Pp{(-.4,-1.1)(.28,-1)(.95,-1.7)(.55,-2.3)(0,-2.75)(-.25,-1.9)}
\pd{(-.4,-3.1)(-.45,-3.1)(.2,-3.2)(.75,-3)(1.1,-3)(1.4,-3)(1.1,-2.5)(1.3,-2.6)(1.75,-3.35)(1.7,-3.5)(1.8,-3.5)(0,-.95)}}
\panel{4}{8}{\Bp{(-1,-.9)(-.87,-.18)(-.19,.33)(1.04,.53)(2,.22)(2.27,-.7)(1.86,-2)(1.3,-1.7)(.22,-1.3)(-.6,-1.3)}
\bd{(-1.2,.2)(-.9,.4)(-.6,.7)(.3,.7)(2.9,.7)(2.4,-.1)(2.6,-.4)(2.5,-1.2)(2.7,-1.2)(2.8,-1.8)(3,-1.4)(2.6,-1.9)(2.4,-1.5)(-.8,.45)(-1.3,-.8)(-.4,-1.7)(-.9,-1.3)(2.2,-1)}
\Gp{(-1.08,-.8)(-.19,-.6)(-.74,-1.2)(-1,-1.1)}
\Gp{(.56,.74)(.83,1.04)(1.17,.94)(1.04,.43)(.63,.22)}
\gd{(1.7,2.47)(1.65,2.47)(1.15,1.4)(.75,1.2)(1.3,.95)(1.4,.9)(.5,.1)(1.3,-.6)(.45,-.3)(-1.1,-.7)}
\Pp{(.22,-1.3)(1.3,-1.6)(1.04,-2.2)(.5,-1.7)}
\Pp{(1,-1.9)(2,-2)(1.93,-2.5)(1.45,-2.3)}
\pd{(.5,-2.2)(.6,-3.2)(1.5,-3.2)(1.7,-3.1)(1.5,-2.7)(2.2,-2.7)(2.2,-2.9)(2.45,-3.3)(2.5,-3.45)(2.5,-3.6)(1.4,-2.2)(.75,-2.3)(1.1,-2.3)}}
\panel{5}{8}{\Gp{(-4.6,1.35)(-3.7,.74)(-2.2,.53)(-1,.74)(-1,-.5)(-.4,-1.1)(-1.5,-1.2)(-3.3,-.3)}
\gd{(-5.3,2.47)(-5.2,2.47)(-5.1,2.45)(-4.7,1.4)(-2.4,1)(-2,.95)(-3,.8)(-1.7,.6)(-.2,-.9)}
\Bp{(-1.15,.53)(0,.43)(1.75,.43)(3.9,.63)(5,-.08)(4.3,-1.1)(2.1,-2)(1,-1.6)(-.4,-.7)(-1.15,0)}
\bd{(.2,1)(.6,.9)(1.4,.7)(2.5,.7)(3.5,.8)(4.2,.6)(5.2,.5)(5.6,.5)(5.2,.1)(5,-.9)(4.5,-1.1)(3,-1.9)(2.3,-2.4)(1.7,-1.9)(4,-.9)(.8,.85)}
\Pp{(-.4,-.6)(0,-1.1)(1.4,-1.9)(1.03,-2.75)(.3,-2.5)(-.4,-1.3)}
\pd{(0,-3.2)(.3,-3.2)(.9,-3.2)(1.4,-3.3)(1.5,-3.4)(1.5,-3.55)(1.1,-3.05)(-.3,-.65)}}
\panel{6}{8}{\Bp{(-2.85,-.5)(-1.67,.12)(-.5,.33)(1.15,.43)(2.32,.74)(3.26,.12)(2.56,-.7)(1.15,-1.6)(.2,-1.8)(-1.43,-1.9)(-2.25,-1.5)(-2.7,-1.4)(-2.1,-1.1)}
\bd{(-3.8,-.3)(-3.5,-.1)(-3.4,-.5)(-3,-.4)(-2.7,.8)(-2.2,.4)(-.4,.7)(0,.9)(.9,1)(1.1,.7)(3.4,.3)(3,-.2)(-2.6,-1.5)(-2.3,-1.4)(-2,-2)(-1,-2.3)(1.4,-1.5)(-3.2,-.5)}
\Gp{(-1.9,-.08)(-1.67,1.04)(-1.2,1.15)(-1.3,.33)(-1.55,-.3)}
\Gp{(-1.9,-.8)(-1.2,-.7)(-1.3,-1.1)(-1.78,-1)}
\gd{(-.9,2.47)(-.95,2.45)(-1,2.47)(-1.3,1.4)(-.9,.8)(-.5,.7)(.7,.53)(-.4,.6)(-2.8,-.05)(2,-1.2)(-1.2,.9)}
\Pp{(-1.43,-1.1)(-.5,-1)(.56,-2)(.2,-2.43)(-.96,-2.33)(-1.43,-1.7)}
\pd{(-2.15,-1.9)(-2,-2.3)(-1.9,-2.5)(-1.9,-3.2)(-1.5,-3.15)(-1.4,-3.1)(-.8,-3.1)(-.5,-3.4)(-.45,-3.5)(-.6,-2.6)(.3,-2.6)(-.8,-1)(.2,-2.7)}}
\panel{7}{8}{\Bp{(-4.4,-.7)(-4.4,.12)(-2.8,.53)(-.15,.43)(.6,-.3)(.44,-1.1)(-.74,-1.5)(-1.9,-1.8)(-3.1,-1.4)(-4.55,-1.1)}
\bd{(-8,.5)(-6.8,.45)(-6.5,.2)(-6.4,.05)(-5.8,0)(-5.6,-.6)(-5.9,-.6)(-7.1,-1)(-5.4,.5)(-5.3,.7)(-4.8,.7)(-4.2,.6)(-3.8,.7)(-2.6,.95)(-2.1,1)(-1.4,.9)(-4.9,-.3)(-5,-.7)(-5.3,-.9)(1,.25)(1.1,.3)(.9,.7)(-4.7,.1)(-4.7,-1)(-2.9,-2.2)(-2.4,-1.8)(-1,-1.7)}
\Gp{(-1,.43)(-.6,1.15)(-.15,.53)(-.44,.2)}
\Gp{(-.15,-.5)(.3,-.5)(.3,-1.1)(0,-1.3)(-.2,-.9)}
\gd{(-.8,2.47)(-.85,2.45)(-.75,2.47)(-.65,1.4)(-2.6,-1.2)}
\Pp{(-4.3,-1.6)(-3.1,-.9)(-1.9,-1.4)(-2.5,-2.2)(-3.5,-2.4)}
\pd{(-5.6,-2.5)(-4.5,-1.5)(-5,-2.2)(-4.6,-2.6)(-4.4,-2.7)(-3.9,-2.7)(-4.2,-3)(-3.9,-2.9)(-4.8,-3.2)(-4.5,-3.4)(-4.4,-3.6)(-3.5,-3.2)(-3.3,-3.1)(-2.6,-1.1)(-3.3,-.8)}}
% row VAE 9
\panel{1}{9}{\Gp{(-1.47,2.2)(-1,2)(-.5,1.9)(-1,1.25)(-1.33,1.9)}
\Gp{(-.83,-.66)(.2,-.87)(.18,-1.4)(-.42,-1.5)}
\gd{(-1.25,2.2)(-.4,2)(-1.1,.4)(-1.05,-.4)(.6,-.2)(-.6,-1.5)(-.2,-.5)}
\Bp{(-1.13,1.7)(-.22,1.9)(1,2)(2.2,2.3)(2.6,2.4)(2.5,1.7)(1.6,.83)(1.9,-.66)(1.9,-1.2)(.8,-1.4)(-.2,-1.3)(-.93,-.45)(-1.2,.6)}
\bd{(0,4.5)(1.8,4.4)(2.1,4.1)(2.3,3.3)(.55,2.8)(1.2,2.9)(1.3,2.7)(.5,2.55)(-.5,2.4)(3.3,2.9)(3.4,2.7)(3,2.6)(3.8,2.5)(4.2,2.5)(3.8,2.6)(4.6,1.1)(4,.9)(3.9,.4)(3.5,.3)(3,-.3)(2.5,0)(2.2,-.5)(.1,-1.6)(.9,-1.5)(2.7,.3)}
\pd{(.7,-.9)(.6,-1.1)(.9,-1.2)(.8,-.95)(.5,-1)(1,-1.3)(1.1,-.8)(1.6,-.3)(-.4,-1)(-.6,-.9)(1.4,-.1)(.6,-1.3)}}
\panel{2}{9}{\Bp{(-1.54,2.1)(-.64,2.1)(.08,1.68)(1.54,.83)(2.6,-.13)(2.87,-1.1)(1.54,-1.4)(.57,-1.2)(-.4,-.45)(-1.25,.6)}
\bd{(-.6,4.5)(1.1,4.4)(-.4,3.3)(-.3,3)(-.5,2.7)(-.1,2.9)(-.1,2.6)(.9,2.4)(1,2)(1.3,2.1)(1.8,1.8)(2.3,1.7)(2.4,1.3)(3.4,2.5)(3.8,2.55)(3.5,2.1)(4,1)(3.6,1)(4.3,.1)(3.7,-.1)(4.3,-.9)(2.9,-1.8)(6,.85)(2.2,1.2)(1.7,1.8)}
\Gp{(1.54,-.66)(2.5,-.45)(3.2,-.76)(3.96,-1.1)(3.47,-1.5)(2.26,-1.4)(1.4,-1.1)}
\gd{(4.5,-1.05)(5,-1.05)(3.9,-1.2)(3.2,-.3)(.7,2)(-.9,1.8)(2,-.5)(2.9,-1.7)}
\pd{(-.2,-.5)(.1,-.9)(.5,-1.1)(.9,-1.2)(1.2,.9)(1.1,-1.4)(1.6,-1.2)(2.3,-1.6)(1.9,-1.6)(2.1,-1.5)(-.1,-.8)(.3,-1)}}
\panel{3}{9}{\Bp{(-.52,1.25)(.28,1.9)(1.75,1.9)(2.55,2.53)(3.35,2.85)(3.35,1.9)(2.55,.6)(2,-.66)(.7,-1.2)(-.1,-.23)(-.65,.6)}
\bd{(2.6,4.5)(3.3,4.5)(3.4,4.2)(2.5,3.3)(3.4,3.1)(3.7,2.6)(3.7,2.2)(2,2.8)(1.5,2.5)(.8,2.4)(.3,2.4)(5.4,2.6)(5.7,2.5)(6.5,2.5)(6.8,.85)(3.9,1.4)(4,1.1)(3.6,.8)(4,-.1)(3.5,-.2)(2.8,-1.3)(2.4,-1.7)(1.5,-1.8)(1.9,-1.6)}
\Gp{(-1.32,1.25)(-.92,2.1)(-.52,1.9)(-.8,1.04)(-.25,0)(.95,-1.2)(2,-.76)(2.8,-.55)(4.55,-.66)(4.4,-1)(2.8,-1.2)(1.5,-1.5)(.55,-1.3)(-.4,-.45)(-1.25,.83)}
\gd{(5.4,-.35)(5.6,-.45)(5.8,-.5)(3.3,-.3)(3,-.2)(-1,2.2)(2,-1.6)(2.6,-1.5)}
\pd{(.2,-.9)(0,-.7)(.5,-1.2)(.7,-1.4)(.3,-1)(.8,-1.5)(-.1,-.6)(.4,-1.1)}}
\panel{4}{9}{\Bp{(-1,-.45)(-.33,.6)(.63,1.68)(1.58,2.5)(2.4,2.95)(2.4,2.1)(2,1)(1.7,.4)(.63,-.45)(-.05,-.87)(-.74,-.87)}
\bd{(2.45,4.4)(2.9,4.4)(2.45,3.9)(2.35,3.3)(2.5,2.9)(2.9,2.7)(3,2.65)(.05,2.6)(-.05,2.5)(.3,2.5)(-.35,2)(-.2,1.7)(-.5,.85)(-.9,.4)(-1.05,-.2)(2.6,1.3)(2.9,.9)(2.5,.6)(2.7,2.2)(-.9,-1.6)(-.5,-1.7)(.1,-1.4)(2.8,2.5)(.4,1.7)}
\Gp{(-1.08,-1.4)(-1,-.66)(-.67,-.87)(.22,-.87)(1.17,-.55)(1.7,-.34)(1.17,-.87)(.22,-1.3)(-.87,-1.5)}
\gd{(-1.1,-1)(-.3,-1.3)(1.2,1.75)(1.4,1.7)(-.2,-.1)}
\Pp{(.9,-.34)(1.86,.62)(1.93,.08)(1.17,-.87)(.83,-.87)}
\pd{(2.2,.5)(2.4,.35)(2.5,.85)(2.55,.8)(.55,-1.2)(.6,-1.6)(.35,-1.3)(1.7,-.9)(1.75,-.85)(.1,-1.1)(.05,-1.4)(1.5,-.4)(1.3,-.6)}}
\panel{5}{9}{\Gp{(-4.6,-.66)(-3,-.34)(-1.15,-.02)(-.4,-1.5)(-2.2,-1.5)(-3.85,-1.2)}
\gd{(-5.3,-.4)(-5.2,-.5)(-5.1,-.55)(-1.4,.3)(-1.3,.5)(-1.3,.15)(-1.7,0)(-3,-.1)(-2.7,0)}
\Bp{(-1,0)(-.4,1.25)(2.1,2.5)(4.5,3.05)(5,2.95)(4.5,2.1)(2.85,.6)(2.85,-1.2)(1,-1.3)(-.4,-1.1)(-1.15,-.65)}
\bd{(1.4,4.5)(2.7,4.5)(4.5,4.1)(4.9,3)(5.5,2.6)(3.7,2.5)(3.3,2.7)(1.8,2.5)(5.6,1.8)(4.9,1.1)(5,.6)(3.6,.9)(4.2,.3)(3.9,-.3)(4.5,-.5)(4.8,-1)(3.4,-.8)(.4,-1.8)(-.5,-1.6)}
\gd{(1,1.9)(.8,2)(.6,1.6)(1.4,2.3)(1.2,2.5)(.3,1.2)(.1,.9)(-.2,.5)}
\pd{(1.2,-.4)(1.4,-.8)(1,-1.1)(1.5,-1.2)(.4,-1.1)(.7,-.9)(0,-1.1)(-.3,-1.4)(2.6,-1.1)(1.9,-.4)(2.7,-.9)(.9,-.2)}}
\panel{6}{9}{\Bp{(-2.7,0)(-1.43,1.04)(0,1.46)(1.15,2.1)(2.3,2.5)(3.15,1.9)(2.56,.6)(1.6,-.66)(.2,-1.3)(-1.2,-1.3)(-2.37,-.66)}
\bd{(1.8,4.45)(1.9,4.4)(2.4,4.2)(1.7,3.3)(1.9,3)(2.2,2.7)(1.5,2.5)(-3.8,2.5)(-3.5,2.5)(-3.3,2.3)(-3.7,2)(-2.6,1.8)(-2.8,1.5)(-2.3,1.5)(-2.5,1.2)(-3,.8)(3.3,1.8)(3.7,.3)(2.8,.5)(-1.6,1.8)(-.5,1.6)(.4,-1.5)(-1.7,-1.5)(-2.4,-1)(.2,-1.4)(3.3,.3)}
\Gp{(-2.25,-.66)(-1.78,-.45)(-.26,-1)(-1.2,-1.6)(-2,-1.3)}
\gd{(-2.8,-.1)(-2.6,-1)(1.4,1.65)(1.6,1.7)(1.5,1.9)(1.8,1.65)(2.2,2.4)(.8,.8)(-.2,-.9)}
\pd{(-.8,-1.3)(-1.4,-1.4)(-.5,-1.1)(-.2,-1.2)(-.1,-.7)(.1,-.9)(-.5,-.8)(-1.1,-1.5)(.5,-1.2)(1,-.6)}}
\panel{7}{9}{\Bp{(-4.6,2.3)(-3.4,2.3)(-1.9,1.7)(-.15,.83)(.6,.2)(.44,-1.3)(-.44,-1.5)(-2.5,-1.3)(-3.1,-.23)(-4.6,1.25)}
\bd{(-3.8,4.4)(-3.9,4.2)(-1.6,4.5)(-3.9,4)(-4.7,3)(-5.3,3)(-3.9,3.2)(-6.5,2.6)(-4.6,2.8)(-2.5,2.9)(-1,2.5)(-.8,2.6)(-.7,2.3)(-.1,2)(0,1.7)(-8,1.1)(-6.6,.6)(-6.7,.35)(-7,-.3)(-6.6,-.5)(-5.6,-1.2)(-5.4,-1)(-4.5,-.6)(-4.6,.8)(-5,1.3)(.7,-.9)(1,-.8)(-4,-1.4)(-2.3,-1.8)(.2,-1.7)(-3.3,-1.6)(-4.5,-.9)(-4.2,-1.1)(-3.6,.2)(-3.9,-.6)(-3.4,-1)}
\Gp{(-.74,-1)(.3,-.76)(.3,-1.4)(-.3,-1.6)}
\gd{(-2.5,2.3)(-2.3,2)(-2,1.9)(-1.6,1.7)(-1.7,1.5)(-1.5,1.8)(-1.6,1.3)(-.8,-.6)}
\pd{(-4.5,.9)(-4.4,.6)(-5.2,-.4)(-4.9,-.7)(-5.5,-1)(-5.1,-1)(-3.7,-1.5)(-2.9,-1.5)(-.6,-1.3)(-4.7,-.15)(-3.2,.4)(-4.3,-.2)(-4,.2)(-3.7,-.3)(-3.5,.1)(-3.2,-.2)(-3,.3)(-2.8,-.1)(-2.5,.2)(-2.3,-.3)(-2.1,-.6)(-1.8,-.9)(-3.6,-.8)(-3.2,-.7)(-2.8,-.6)(-2.5,-.9)(-2.2,-1.1)(-4.1,-.9)(-3.9,-1.2)(-3.4,-1.2)(-3,-1.1)(-2.7,-1.3)(-1.6,-1.2)}}
\panel{8}{9}{\Bp{(-1.93,1.25)(-1.33,2.1)(-.54,2.5)(.35,1.9)(.45,.4)(.25,-.55)(-.74,-1.2)(-1.33,-1.1)(-1.83,-.23)(-1.93,.6)}
\bd{(-.1,4.45)(.5,4.3)(-.1,4.1)(-.4,2.9)(-.8,2.9)(-1.2,2.5)(-1.7,2.1)(.4,2.25)(.9,1.7)(.6,1.3)(.9,.9)(1,.6)(-2.3,.8)(-2.1,.6)(.2,2.2)(-.8,-1.5)(.1,-1.4)(.45,-1)(-1.5,-1.7)(-.3,-1.5)}
\Gp{(-1.33,-1.3)(-.84,-.76)(.06,-.66)(.94,-.55)(1,-.87)(-.15,-1.1)(-.94,-1.5)}
\gd{(.4,.35)(.45,.2)(.7,-.2)(.5,-.3)(-.7,1.7)(-.65,1.3)(1.3,-.65)(2.4,-.4)(2.45,-.35)(2.4,-.45)(.6,-.1)}
\Pp{(-2.63,.2)(-2.33,.4)(-1.54,-.02)(-1.14,-.87)(-1.83,-1)(-2.43,-.45)}
\pd{(-3.6,.8)(-3.45,.8)(-3.3,.75)(-2.9,.5)(-2.75,.5)(-3.2,.35)(-3.3,-.3)(-3.2,-.65)(-3.1,-.85)(-2.4,-1.6)(-3,-.2)(-2.5,-.5)(-1.6,-1.2)(-1.1,-1.3)}}
% row VAE 10
\panel{1}{10}{\Bp{(-1.25,-.66)(-1.14,.2)(.14,.33)(1,.55)(1,-.66)(2.46,-1.75)(3,-2.4)(2.2,-3.4)(.84,-4.6)(.14,-4.4)(-.33,-3)(-.9,-2.2)}
\bd{(1.5,.55)(1.8,.5)(2,-.2)(3.3,-1.9)(4.5,-1.8)(3.5,-2.5)(3.1,-2.6)(4,-2.9)(3.7,-3)(4,-3.6)(4.3,-3.5)(3.6,-3.2)(2.9,-3.5)(3.35,-3.55)(-.1,-5.6)(.1,-5)(.2,-5)(.7,-4.8)(1.3,-4.4)(1.8,-4.2)(1.6,-3.8)(.5,-4.8)}
\Gp{(-1.6,.65)(-1.25,.88)(-.33,.83)(.25,.2)(-.55,.44)(-1.15,.48)}
\Gp{(-.75,-2.96)(0,-3.2)(-.2,-4.8)(-.5,-4.8)(-.44,-3.7)}
\gd{(-1.05,-3.1)(-.9,-3.6)(-.95,-4.8)(-.1,-2.4)(-.4,-1.8)(-.9,-1.9)}
\pd{(-.4,-1.8)(-.5,-2.5)(-.3,-2.6)(.3,-2.5)(.6,-1.9)(.8,-2.6)(.9,-2.5)(.9,-3.3)(1.2,-3.2)(1.3,-4)(1.4,-4)(-.1,-2.4)(.7,-3.9)(.3,-4)}}
\panel{2}{10}{\Bp{(-1.58,-1.3)(-1.3,-.33)(-.47,.55)(.64,.22)(1.75,-1.3)(1.9,-2.85)(1.75,-3.95)(.64,-3.7)(-.75,-2.85)}
\bd{(4,-2)(4.2,-2)(3.5,-2.4)(4.3,-3.6)(5.8,-3.1)(1.5,-5.6)(2.1,-4.3)(1.7,-4.6)(-1.2,-3.2)(-.8,-3.4)(.3,-3.6)(.5,-3.8)(-1.1,-2.9)}
\Gp{(-.75,.88)(.1,.92)(1.75,-.66)(2.86,-1.1)(3.97,-2.63)(3.14,-3.7)(1.75,-4.8)(1.2,-4.4)(1.75,-3.7)(2.08,-2.4)(1.75,-1.3)(.9,-.22)(-.05,.55)}
\gd{(3.5,-3.4)(3.2,-3.8)(1,-4.8)(1.1,-5)(4.5,-3.3)(4.6,-3.2)(2.6,-1.1)(.8,.5)(2.2,-.75)(-.2,.2)}
\pd{(.2,-2.4)(.8,-2.4)(1.5,-2.6)(1.8,-3.3)(1.9,-3.9)(2,-4.1)(.4,-2.6)}}
\panel{3}{10}{\Bp{(.03,.22)(1.26,.66)(1.56,.11)(2,-1.3)(3.25,-3.07)(4.17,-4.4)(2.64,-4.4)(1.4,-3.4)(.34,-1.53)(-.28,-.44)}
\bd{(1.9,-.1)(2.2,.55)(3.3,.5)(2,-.4)(2.1,-1.2)(2.7,-1.9)(3.6,-2.5)(3.3,-2.3)(5.1,-2.9)(5.2,-3.1)(6.6,-3)(6.2,-3.4)(5.4,-3.4)(3.1,-3.5)(3.8,-3.3)(2.9,-5.6)(2.3,-4.7)(3.7,-4.8)(3,-4.9)}
\Gp{(-1.35,.77)(-.58,.77)(.5,.11)(.34,-.11)(-.74,.33)(-1.2,.55)}
\Gp{(2.33,-2.2)(3.56,-3.73)(4.54,-4.4)(4.33,-4.82)(3.25,-4.4)(2.5,-3.5)(2,-2.63)}
\gd{(5.1,-4.6)(5.3,-4.8)(5.5,-4.9)(1.1,-1.8)(.9,-1.3)(2.7,-1.9)(1.6,-3.3)(3,-2.8)}
\Pp{(-.58,-.88)(-.1,-.88)(.64,-2.2)(.95,-3.07)(.34,-2.85)(-.43,-1.75)}
\pd{(-.4,-2.5)(.5,-3)(.9,-3.6)(1.1,-3.5)(1.8,-4)(1.3,-3.8)(.8,-3.3)}}
\panel{4}{10}{\Bp{(-.96,-2.1)(-.72,-.66)(.06,.55)(1.64,.66)(2.42,0)(2.1,-1.75)(1.95,-3.2)(1.32,-3.95)(.38,-3.5)(-.57,-2.63)}
\bd{(-.85,-.85)(-1.1,-1.2)(-1.2,-1.1)(-.9,-1.5)(-1.25,-2)(2.9,.7)(2.4,-.9)(2.5,-1.7)(2.6,-3.2)(2.3,-2.9)(3,-4.2)(2.9,-4.9)(2.6,-4.4)(3,-5.6)(2.2,-4.2)(1.8,-4.4)(.3,-4.2)(-.5,-3.1)(2.8,-3.8)}
\Gp{(-.33,0)(0,.55)(1.16,.92)(1.48,.7)(.53,.33)(-.17,-.11)}
\Gp{(-1.1,-2.1)(-.8,-1.3)(-.57,-2.2)(.38,-3.5)(1,-4.05)(1.4,-4.7)(.93,-4.5)(-.1,-3.5)(-.88,-2.74)}
\gd{(-.2,-.6)(-.5,-1)(1.7,.6)(1.8,-4.8)(1.75,-4.6)(.2,-2.2)(-.1,-2.8)}
\Pp{(1.64,-1.86)(2.26,-1.64)(2.34,-2.2)(1.8,-2.3)}
\pd{(1.1,-2.3)(1.3,-2)(1.6,-2.8)(1.2,-3.9)(1.6,-3.9)(2.5,-3.8)(2.55,-4)(1.85,-2.6)(.6,-2.4)(.3,-2.6)}}
\panel{5}{10}{\Bp{(-1.1,-2.1)(-.7,-.3)(0,.7)(.8,.9)(1.5,.4)(2.2,-.6)(3,-1.2)(4.2,-2.2)(4.6,-3)(3.8,-4)(2.8,-4.6)(1.5,-4.6)(.4,-4.2)(-.5,-3.4)}
\bd{(1,1)(2,.5)(2.5,-.1)(3,-.4)(5,-2)(5.2,-2.6)(5.5,-3.3)(6,-3.5)(5,-3.8)(4.7,-3.6)(4.8,-4.4)(2.7,-4.9)(3.2,-5.3)(4,-4.8)(5.2,-5.3)(3.2,-5.6)(.3,-4.5)(3.3,-4.7)}
\Gp{(-5.3,-4.7)(-3.4,-3.3)(-1.75,-2.2)(-1.1,-1.1)(-.5,-2.5)(-2.2,-3.2)(-4.2,-4.7)}
\Gp{(-.5,.33)(.55,.88)(1.4,.66)(.3,.22)(-.3,-.1)}
\gd{(-5.4,-4.5)(-5.4,-4.8)(-1.5,-.8)(-1.8,-1.2)(-4.1,-3.5)(-1,-.4)}
\pd{(.2,-2.2)(.7,-2.5)(1.4,-2.4)(1.5,-2.6)(.4,-3.2)(.7,-3.2)(1.2,-4)(1.5,-3.7)(.3,-3)(1.1,-2.8)}}
\panel{6}{10}{\Bp{(-2.84,-1.75)(-2.3,-.88)(-1.2,-.22)(0,.44)(2,.44)(3.24,-.22)(2.56,-1.3)(1.5,-3.07)(.14,-3.95)(-1.2,-3.7)(-2.3,-2.85)}
\bd{(-3.8,-2.4)(-3.3,-1.9)(-3.2,-2)(-1.4,-.6)(-1.6,-.4)(1.8,-1)(3.4,-1)(3.5,0)(3.4,-.2)(2.2,-2.4)(1,-4)(.7,-4.4)(-.2,-4.5)(-.5,-5)(-1.2,-5.6)(-2.7,-4.3)(-2.5,-4.1)(-2.9,-3.4)(-3.2,-3.1)(-3.5,-2.6)}
\Gp{(-.95,.22)(-.27,.66)(1.2,.92)(2.43,.7)(1.5,.66)(0,.33)(-.95,-.44)}
\Gp{(-2,-3.07)(-1.6,-2.2)(-1.35,-3.7)(-1.2,-4.7)(-1.76,-4.7)(-2.15,-3.95)}
\gd{(-1.6,-1.3)(-1.2,-1)(-.9,-5)(-2.7,-3.3)(-1,-1.9)(-.9,-.1)}
\pd{(-2.3,-3.4)(-.7,-2.3)(-.4,-2.7)(0,-2.6)(.3,-2.4)(-.2,-4)(-.5,-3.9)(.2,-3.8)(-.6,-2.8)}}
\panel{7}{10}{\Bp{(-4.6,-2)(-3.95,-1.3)(-3.3,.22)(-2.6,.66)(-.57,.44)(.27,-.44)(.44,-1.75)(-.07,-3.5)(-.9,-4.15)(-2.6,-4.4)(-4.3,-3.95)(-5.5,-3.07)}
\bd{(-3.8,.55)(-3.1,.7)(-4,.1)(-5.8,-1.5)(-7.9,-1.8)(-6.9,-1.9)(-6.7,-2.3)(-6.4,-2.3)(-6.1,-2.7)(-6.9,-2.5)(-5.7,-3.1)(-5.1,-4)(-4.9,-4.4)(-3.4,-4.7)(-2.7,-5.1)(-3.4,-4.9)(-1.8,-4.7)(-1.2,-4.6)(-3.4,-5.6)(.9,-1.3)(.6,-1.9)(1.1,-1.1)(.8,-.9)(.2,-3.2)(.5,-3)}
\Gp{(-2.77,.66)(-2.1,.92)(-.9,.66)(-.07,0)(-.9,.11)(-2.26,.55)}
\Gp{(.03,-1.75)(.37,-2.85)(-.24,-3.95)(-.84,-4.93)(-.9,-4.4)(-.57,-3.4)(-.24,-2.6)}
\gd{(-.7,-4.6)(-.5,-4)(.25,-1.5)(-2.2,-.3)(-1.4,.4)}
\pd{(-4.9,-1.6)(-4.7,-1.6)(-4.3,-1.8)(-4.8,-2.3)(-4,-1.9)(-3.8,-2.3)(-3.3,-1.6)(-3.2,-2)(-2.7,-1.9)(-3.7,-2.6)(-3,-2.5)(-2.4,-2.6)(-3.6,-1.4)(-2.5,-1.3)(-2.2,-1.5)(-5.4,-3.5)(-4.6,-4)(-4.5,-4.1)(-3.7,-3.2)(-2.5,-3)(-2.4,-4)(-1.9,-3.6)(-1.5,-2.5)(-1.6,-2)(-5.1,-1.8)}}
\panel{8}{10}{\Bp{(-2.1,-3.7)(-2,-3.07)(-1.42,-1.75)(-1.2,-.22)(-.16,.44)(.53,.44)(.3,-.88)(.07,-2.85)(-.85,-3.3)(-1.08,-4.6)(-1.77,-4.7)}
\bd{(.85,.5)(.9,.2)(.75,-.1)(.6,-.8)(.5,-1.2)(-2.5,-5)(-2,-5.6)(-1.5,-5)(-1.2,-4.9)(-1.85,-4.3)(-2.2,-4.2)(-.5,-4.7)}
\Gp{(-1,.77)(-.73,.92)(-.27,.33)(-.16,-.11)(-.62,-.04)}
\Gp{(-.85,-3.07)(-.05,-2.96)(.64,-3.73)(1.1,-4.7)(.3,-4.6)(-.4,-3.95)}
\gd{(2.4,-4.6)(2.45,-4.8)(2.35,-4.9)(.7,-1.9)(.9,-2.6)(.8,-2.3)(.2,-2.6)(.1,-2)(-1.2,-1)(-.6,-2)(.6,.4)(-1.3,-.3)(1.3,-4.8)}
\Pp{(-2.9,-2.1)(-2.2,-1.75)(-1.3,-1)(-1.65,-2.63)(-2.34,-2.3)}
\pd{(-1.8,-1)(-2.1,-1.6)(-3.25,-2.5)(-3.3,-3.2)(-3.4,-3.9)(-3.2,-4)(-3,-3.8)(-3.6,-4.1)(-3.7,-4.1)(-2.6,-2.9)(-2.6,-3.3)(-2.5,-3.8)(-2.4,-3.6)(-1.7,-3)(-1.5,-3.4)(-1.9,-.8)}}
\panel{9}{10}{\Bp{(-1.5,-2.2)(-1.16,-.66)(-.23,.44)(1.16,.66)(1.97,-.66)(2.3,-2.4)(1.85,-3.5)(.7,-4.15)(-.46,-3.7)(-1.4,-3.2)}
\bd{(4.2,.55)(2.2,-.1)(2.7,-.8)(2.5,-1.2)(3.9,-2.75)(4.3,-1.8)(2.8,-2.8)(2.6,-3.1)(2.4,-3.4)(2.1,-3.9)(2.3,-5)(.9,-5)(.2,-4.7)(.6,-5.6)(-1.8,-3.4)(-1.9,-1.7)(-1.6,-2.5)(1.5,-4.1)(-.4,-4.2)}
\Gp{(-1.04,-.44)(-.46,.44)(.93,.88)(2.2,.7)(.93,.55)(-.23,.22)(-.8,-.55)}
\Gp{(-1.4,-2)(-1.16,-.88)(-.93,-2.4)(-.7,-3.7)(-.58,-4.8)(-1.27,-4.4)(-1.4,-3.3)}
\gd{(-.5,-4.8)(-.4,-4.5)(-1.6,-3.3)(-1.7,-2)(2.2,.65)(-.9,-1.3)}
\pd{(-1,-2)(-1.2,-2.5)(-.9,-1.3)(-.6,-1.9)(.3,-1.8)(-.2,-2.7)(.7,-4)(.8,-3.5)(-1.5,-3)(-.3,-2.2)}}
\end{tikzpicture}
\end{document}
